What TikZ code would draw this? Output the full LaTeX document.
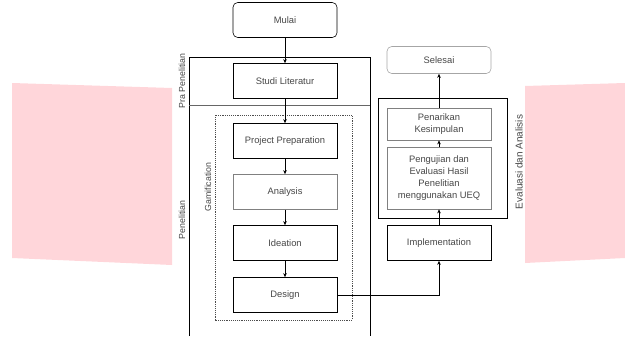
\documentclass[tikz,border=0pt]{standalone}
\usepackage{fontspec}
\setmainfont{Liberation Sans}
\usetikzlibrary{arrows.meta}
\definecolor{Blush}{RGB}{255, 214, 218}
\definecolor{Ink}{RGB}{70, 70, 70}

\begin{document}
\begin{tikzpicture}[x=0.03cm,y=-0.03cm,
  box/.style={draw,line width=0.5pt,minimum width=104*0.03cm,minimum height=35*0.03cm,
    inner sep=1pt,align=center,text=Ink,font=\fontsize{8}{10}\selectfont},
  lane/.style={rotate=90,text=Ink,font=\fontsize{7.5}{9}\selectfont},
  flow/.style={-{Stealth[length=3.5pt,width=3pt]},line width=0.5pt}]
\useasboundingbox (0,0) rectangle (625,336);
%\draw[help lines] (0,0) grid[step=25] (625,336);
% pink panels
\fill[Blush] (12,83) -- (172,88) -- (172,265) -- (12,258) -- cycle;
\fill[Blush] (525,86) -- (625,83) -- (625,258) -- (525,263) -- cycle;
% swimlane frame
\draw[line width=0.5pt] (189,336) -- (189,57) -- (370,57) -- (370,336);
\draw[line width=0.5pt,black!60] (189,105) -- (370,105);
\node[lane] (lpra) at (182,81) {Pra Penelitian};
\node[lane] (lpen) at (182,220) {Penelitian};
% gamification frame
\draw[densely dotted,line width=0.6pt,black!70] (215,115) rectangle (352,320);
\node[lane] (lgam) at (208,187) {Gamification};
% evaluation frame
\draw[line width=0.8pt] (378,98) rectangle (507,218);
\node[lane,font=\fontsize{8.5}{10}\selectfont] (leva) at (519,162) {Evaluasi dan Analisis};
% steps
\node[box,rounded corners=4pt] (mulai) at (285,20) {Mulai};
\node[box] (studi) at (285,81) {Studi Literatur};
\node[box] (prep) at (285,141) {Project Preparation};
\node[box,draw=black!50] (anl) at (285,192) {Analysis};
\node[box] (idea) at (285,243) {Ideation};
\node[box] (design) at (285,295) {Design};
\node[box] (impl) at (439,243) {Implementation};
\node[box,minimum height=62*0.03cm,draw=black!50] (uji) at (439,178)
  {Pengujian dan\\Evaluasi Hasil\\Penelitian\\menggunakan UEQ};
\node[box,minimum height=32*0.03cm,draw=black!50] (tarik) at (439,124)
  {Penarikan\\Kesimpulan};
\node[box,rounded corners=4pt,minimum height=27*0.03cm,draw=black!35] (selesai) at (439,60) {Selesai};
% connectors
\draw[flow] (mulai) -- (studi);
\draw[flow] (studi) -- (prep);
\draw[flow] (prep) -- (anl);
\draw[flow] (anl) -- (idea);
\draw[flow] (idea) -- (design);
\draw[flow] (design.east) -| (impl.south);
\draw[flow] (impl) -- (uji);
\draw[flow] (uji) -- (tarik);
\draw[flow] (tarik) -- (selesai);
\end{tikzpicture}
\end{document}
